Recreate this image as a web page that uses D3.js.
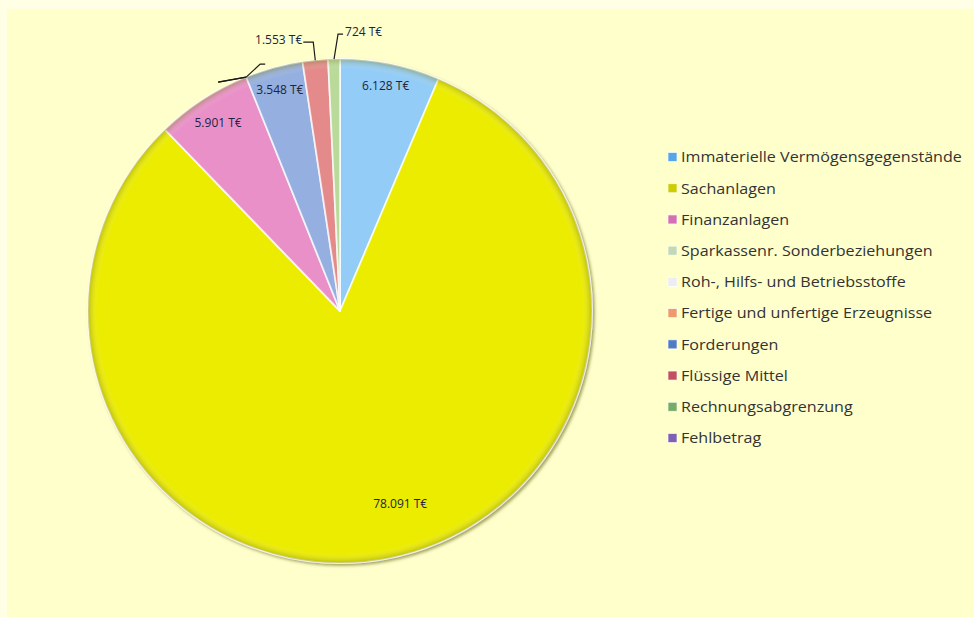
<!DOCTYPE html>
<html>
<head>
<meta charset="utf-8">
<script src="https://cdn.jsdelivr.net/npm/d3@7"></script>
<style>
  html, body { margin: 0; padding: 0; background: #ffffe6; }
  svg { display: block; }
</style>
</head>
<body>
<div id="root"></div>
<script>
// data (values in T€)
const categories = [
    'Immaterielle Vermögensgegenstände',
    'Sachanlagen',
    'Finanzanlagen',
    'Sparkassenr. Sonderbeziehungen',
    'Roh-, Hilfs- und Betriebsstoffe',
    'Fertige und unfertige Erzeugnisse',
    'Forderungen',
    'Flüssige Mittel',
    'Rechnungsabgrenzung',
    'Fehlbetrag'
];
const values = [6128, 78091, 5901, 0, 0, 0, 3548, 1553, 724, 0];
const unit = 'T€';

// styles
const sliceColors = ['#93cdf7', '#ebec00', '#ea90c9', '#d6e6c4', '#f4f4f8', '#f3ad85', '#95b0e0', '#e48a8b', '#b9da99', '#a78fcf'];
const legendColors = ['#55a6e6', '#cdcd00', '#d46fb2', '#c5d8b4', '#ececf2', '#ee9a6a', '#4f7cc4', '#c2505f', '#77ac66', '#7f60b2'];

// label placement: inside at a fraction of the radius, or outside with a leader line
const labelLayout = [
    {type: 'in', f: 0.91},
    {type: 'in', f: 0.80, da: -0.12},
    {type: 'in', f: 0.89},
    {type: 'out', elbow: [-28, 5], end: [-28, 5]},
    {type: 'out', elbow: [14, -13], end: [19, -13]},
    {type: 'out', elbow: [-28, 5], end: [-28, 5]},
    {type: 'in', f: 0.91},
    {type: 'out', elbow: [-2, -18], end: [-12, -18], anchor: 'end'},
    {type: 'out', elbow: [4, -25], end: [9, -25], anchor: 'start'},
    {type: 'none'}
];

const width = 974;
const height = 617;
const cx = 340;
const cy = 311;
const radius = 252;

const locale = d3.formatLocale({decimal: ',', thousands: '.', grouping: [3], currency: ['', '€']});
const fmt = locale.format(',d');
const labelText = v => v > 0 ? `${fmt(v)} ${unit}` : '';

const svg = d3.select('#root')
    .append('svg')
    .attr('width', width)
    .attr('height', height);

// background
svg.append('rect')
    .attr('x', 7).attr('y', 9)
    .attr('width', width - 7).attr('height', height - 9)
    .attr('fill', '#ffffcc');

const defs = svg.append('defs');
const shadow = defs.append('filter')
    .attr('id', 'shadow')
    .attr('x', '-10%').attr('y', '-10%')
    .attr('width', '120%').attr('height', '120%');
shadow.append('feDropShadow')
    .attr('dx', 2).attr('dy', 2)
    .attr('stdDeviation', 1.5)
    .attr('flood-color', '#5a5a00')
    .attr('flood-opacity', 0.55);

const rim = defs.append('radialGradient')
    .attr('id', 'rim')
    .attr('cx', '50%').attr('cy', '50%').attr('r', '50%');
rim.append('stop').attr('offset', '0%').attr('stop-color', '#fff').attr('stop-opacity', 0);
rim.append('stop').attr('offset', '96%').attr('stop-color', '#fff').attr('stop-opacity', 0);
rim.append('stop').attr('offset', '100%').attr('stop-color', '#6b6b00').attr('stop-opacity', 0.35);

const pie = d3.pie()
    .value(d => d)
    .sort(null)
    .startAngle(0)
    .endAngle(2 * Math.PI);
const arcs = pie(values);

const arc = d3.arc()
    .innerRadius(0)
    .outerRadius(radius);

const g = svg.append('g')
    .attr('transform', `translate(${cx},${cy})`);

g.append('g')
    .attr('filter', 'url(#shadow)')
    .selectAll('path')
    .data(arcs.filter(d => d.value > 0))
    .join('path')
    .attr('d', arc)
    .attr('fill', d => sliceColors[d.index])
    .attr('stroke', 'rgba(255,255,255,0.75)')
    .attr('stroke-width', 1.8)
    .attr('stroke-linejoin', 'round');

g.append('circle')
    .attr('r', radius)
    .attr('fill', 'url(#rim)')
    .attr('pointer-events', 'none');

// labels
const pointAt = (angle, r) => [r * Math.sin(angle), -r * Math.cos(angle)];

arcs.forEach(d => {
    const lay = labelLayout[d.index];
    const mid = (d.startAngle + d.endAngle) / 2;
    if (lay.type === 'in') {
        const [x, y] = pointAt(mid + (lay.da || 0), radius * lay.f);
        g.append('text')
            .attr('x', x).attr('y', y)
            .attr('dy', '0.35em')
            .attr('text-anchor', 'middle')
            .attr('font-family', 'Open Sans, sans-serif')
            .attr('font-size', 12)
            .attr('fill', '#1c2540')
            .text(labelText(d.value));
    } else if (lay.type === 'out') {
        const [x0, y0] = pointAt(mid, radius);
        const pts = [[x0, y0], [x0 + lay.elbow[0], y0 + lay.elbow[1]], [x0 + lay.end[0], y0 + lay.end[1]]];
        g.append('path')
            .attr('d', d3.line()(pts))
            .attr('fill', 'none')
            .attr('stroke', '#1a1a1a')
            .attr('stroke-width', 1.2);
        const txt = labelText(d.value);
        if (txt) {
            const anchor = lay.anchor || 'start';
            g.append('text')
                .attr('x', pts[2][0] + (anchor === 'end' ? -1 : 2))
                .attr('y', pts[2][1] - 2)
                .attr('dy', '0.35em')
                .attr('text-anchor', anchor)
                .attr('font-family', 'Open Sans, sans-serif')
                .attr('font-size', 12)
                .attr('fill', '#1c2540')
                .text(txt);
        }
    }
});

// legend
const legendY = d3.scalePoint()
    .domain(categories)
    .range([157, 438]);

const legend = svg.append('g')
    .selectAll('g')
    .data(categories)
    .join('g')
    .attr('transform', d => `translate(668,${legendY(d)})`);

legend.append('rect')
    .attr('x', 0).attr('y', -4.5)
    .attr('width', 9).attr('height', 9)
    .attr('fill', (d, i) => legendColors[i])
    .attr('stroke', 'rgba(255,255,255,0.8)')
    .attr('stroke-width', 0.8);

legend.append('text')
    .attr('transform', 'translate(13,0) scale(1.06,1)')
    .attr('dy', '0.35em')
    .attr('font-family', 'Open Sans, sans-serif')
    .attr('font-size', 15.2)
    .attr('fill', '#333')
    .text(d => d);
</script>
</body>
</html>
